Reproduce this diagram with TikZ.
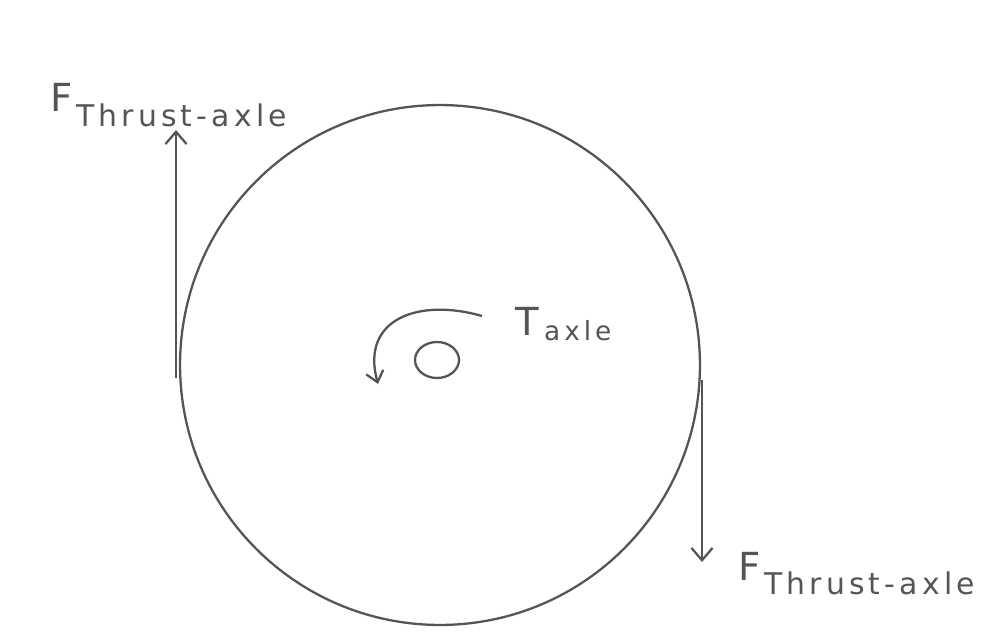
\documentclass[tikz,border=0pt]{standalone}
\usepackage{fontspec}
\setmainfont{DejaVu Sans}
\usetikzlibrary{arrows.meta,shapes.geometric}
\definecolor{pencil}{HTML}{555555}
\tikzset{
  pen/.style={draw=pencil, line width=1.3pt},
  force/.style={pen, -{Straight Barb[length=7pt,width=12pt]}},
  lbl/.style={text=pencil, inner sep=0pt, anchor=base west}
}
\newcommand{\flabel}{\fontsize{22}{24}\selectfont F\raisebox{-8pt}{\fontsize{17}{19}\selectfont\addfontfeature{LetterSpace=14}\kern2pt Thrust-axle}}
\begin{document}
\begin{tikzpicture}[x=0.02cm, y=-0.02cm]
\useasboundingbox (0,0) rectangle (987,642);
\fill[white] (0,0) rectangle (987,642);
% wheel
\node[pen, circle, minimum size=10.4cm, inner sep=0pt] (wheel) at (440,365) {};
% axle
\node[pen, ellipse, minimum width=0.88cm, minimum height=0.72cm, inner sep=0pt] (axle) at (437,360) {};
% torque arrow
\coordinate (ts) at (482,316);
\coordinate (te) at (378,384);
\draw[pen, -{Straight Barb[length=6pt,width=10pt]}] (ts) .. controls (420,298) and (360,318) .. (te);
\node[lbl] (tlabel) at (515,335) {\fontsize{22}{24}\selectfont T\raisebox{-3pt}{\fontsize{15}{17}\selectfont\addfontfeature{LetterSpace=15}\kern3pt axle}};
% forces
\coordinate (lb) at (176,378);
\coordinate (lt) at (176,130);
\draw[force] (lb) -- (lt);
\node[lbl] (llabel) at (50,112) {\flabel};
\coordinate (rt) at (702,380);
\coordinate (rb) at (702,562);
\draw[force] (rt) -- (rb);
\node[lbl] (rlabel) at (738,580) {\flabel};
\end{tikzpicture}
\end{document}
